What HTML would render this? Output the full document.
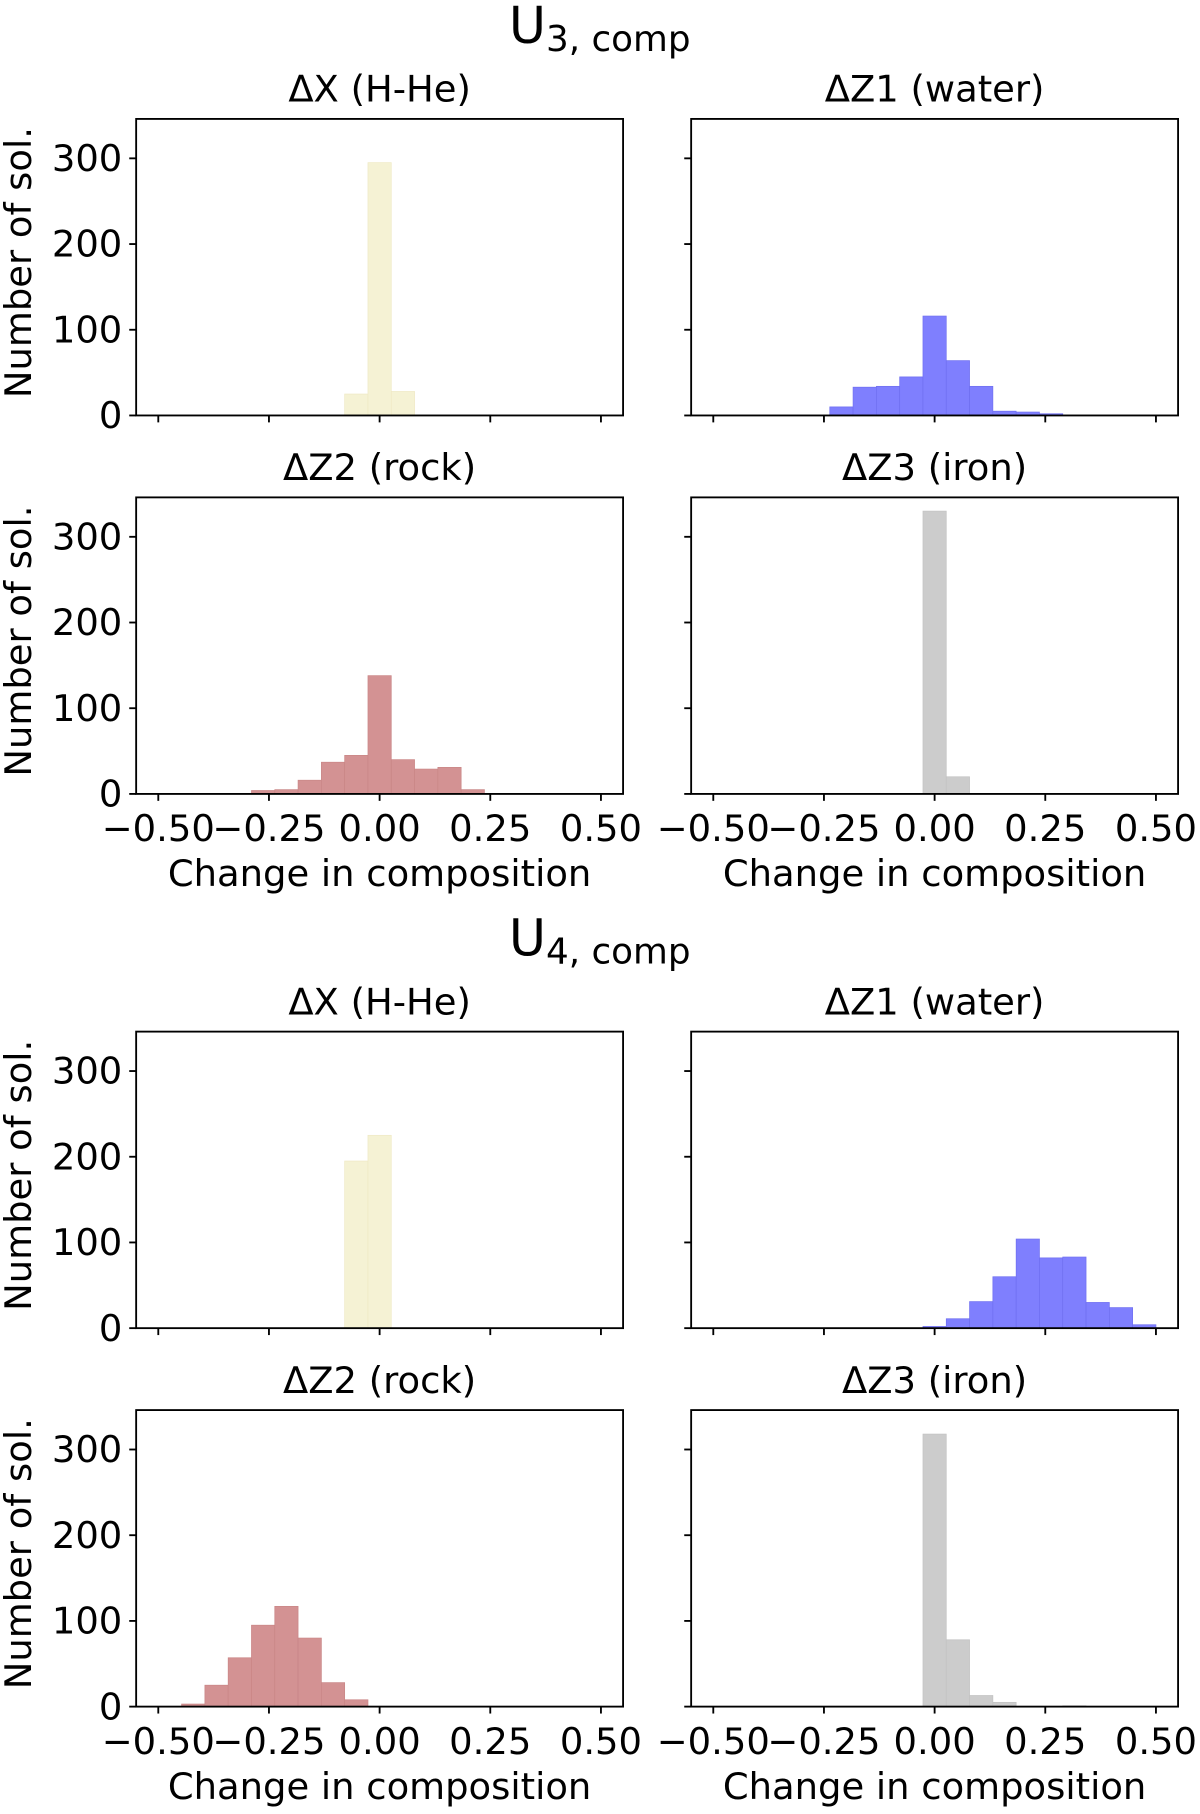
<!DOCTYPE html>
<html><head><meta charset="utf-8"><style>
html,body{margin:0;padding:0;background:#fff;}
svg{display:block;font-family:"DejaVu Sans","Liberation Sans",sans-serif;}
</style></head><body>
<svg id="fig" width="1200" height="1814" viewBox="0 0 1040 1572" xmlns="http://www.w3.org/2000/svg"></svg>
<script>
// bin width (bins centred at k*binW)
const binW = 1/19;
// panel data: first bin index and counts
const p1Start = -1, p1Counts = [25, 295, 28];
const p2Start = -4, p2Counts = [10, 33, 34, 45, 116, 64, 34, 5, 4, 2];
const p3Start = -5, p3Counts = [4, 5, 16, 37, 45, 138, 40, 29, 31, 5];
const p4Start = 0, p4Counts = [330, 20];
const p5Start = -1, p5Counts = [195, 225];
const p6Start = 0, p6Counts = [2, 11, 31, 60, 104, 82, 83, 30, 24, 4];
const p7Start = -8, p7Counts = [3, 25, 57, 95, 117, 80, 28, 8];
const p8Start = 0, p8Counts = [318, 78, 13, 5, 0, 0, 1];
const xTicks = [-0.5, -0.25, 0, 0.25, 0.5];
const xTickLabels = ["\u22120.50", "\u22120.25", "0.00", "0.25", "0.50"];
const yTicks = [0, 100, 200, 300];
const titles = ["\u0394X (H-He)", "\u0394Z1 (water)", "\u0394Z2 (rock)", "\u0394Z3 (iron)"];

const NS = "http://www.w3.org/2000/svg";
const svg = document.getElementById('fig');
function mk(tag, attrs, parent){
  const e = document.createElementNS(NS, tag);
  for (const k in attrs) e.setAttribute(k, attrs[k]);
  (parent||svg).appendChild(e);
  return e;
}
const XMIN=-0.55, XMAX=0.55, YMAX=346;
const colors = {yellow:"#f5f2d4", blue:"#7f7ffe", rock:"#d39293", iron:"#cccccc"};
const edges = {yellow:"#efe9c4", blue:"#6f6ff0", rock:"#c98686", iron:"#c2c2c2"};
const FS = 32;

function panel(name, L, T, W, H, start, counts, color, title, showYLabels, showXLabels){
  const g = mk('g', {});
  
  
  const sx = v => L + (v - XMIN) / (XMAX - XMIN) * W;
  const sy = v => T + H - v / YMAX * H;
  counts.forEach((c, i) => {
    if (c <= 0) return;
    const k = start + i;
    const x0 = sx((k - 0.5) * binW), x1 = sx((k + 0.5) * binW);
    const r = mk('rect', {x:x0, y:sy(c), width:x1-x0, height:sy(0)-sy(c), fill:colors[color], stroke:edges[color], 'stroke-width':0.6}, g);
    
    
  });
  const fr = mk('rect', {x:L, y:T, width:W, height:H, fill:'none', stroke:'#000', 'stroke-width':1.6}, g);
  
  
  xTicks.forEach((v, i) => {
    mk('line', {x1:sx(v), x2:sx(v), y1:T+H, y2:T+H+6, stroke:'#000', 'stroke-width':1.6}, g);
    if (showXLabels) {
      const t = mk('text', {x:sx(v), y:T+H+41, 'font-size':FS, 'text-anchor':'middle'}, g);
      t.textContent = xTickLabels[i];
      
      
    }
  });
  yTicks.forEach(v => {
    mk('line', {x1:L-6, x2:L, y1:sy(v), y2:sy(v), stroke:'#000', 'stroke-width':1.6}, g);
    if (showYLabels) {
      const t = mk('text', {x:L-12, y:sy(v)+11, 'font-size':FS, 'text-anchor':'end'}, g);
      t.textContent = String(v);
      
      
    }
  });
  const tt = mk('text', {x:L+W/2, y:T-15, 'font-size':FS, 'text-anchor':'middle'}, g);
  tt.textContent = title;
  
  
  if (showYLabels) {
    const yl = mk('text', {x:0, y:0, 'font-size':FS, 'text-anchor':'middle', transform:`translate(27,${T+H/2-4}) rotate(-90)`}, g);
    yl.textContent = "Number of sol.";
    
    
  }
  if (showXLabels) {
    const xl = mk('text', {x:L+W/2, y:T+H+80, 'font-size':FS, 'text-anchor':'middle'}, g);
    xl.textContent = "Change in composition";
    
    
  }
}
function suptitle(name, num, y){
  const t = mk('text', {x:441, y:y, 'font-size':44}, null);
  
  
  const a = document.createElementNS(NS, 'tspan'); a.textContent = 'U'; t.appendChild(a);
  const b = document.createElementNS(NS, 'tspan'); b.setAttribute('dy', '7'); b.setAttribute('font-size', '31'); b.textContent = num + ', comp'; t.appendChild(b);
}
const LX = 118, RX = 599, W = 422, H = 257;
suptitle('suptitle-u3', '3', 37);
panel('panel-u3-hhe', LX, 103, W, H, p1Start, p1Counts, 'yellow', titles[0], true, false);
panel('panel-u3-water', RX, 103, W, H, p2Start, p2Counts, 'blue', titles[1], false, false);
panel('panel-u3-rock', LX, 431, W, H, p3Start, p3Counts, 'rock', titles[2], true, true);
panel('panel-u3-iron', RX, 431, W, H, p4Start, p4Counts, 'iron', titles[3], false, true);
suptitle('suptitle-u4', '4', 828);
panel('panel-u4-hhe', LX, 894, W, H, p5Start, p5Counts, 'yellow', titles[0], true, false);
panel('panel-u4-water', RX, 894, W, H, p6Start, p6Counts, 'blue', titles[1], false, false);
panel('panel-u4-rock', LX, 1222, W, H, p7Start, p7Counts, 'rock', titles[2], true, true);
panel('panel-u4-iron', RX, 1222, W, H, p8Start, p8Counts, 'iron', titles[3], false, true);
</script>
</body></html>
